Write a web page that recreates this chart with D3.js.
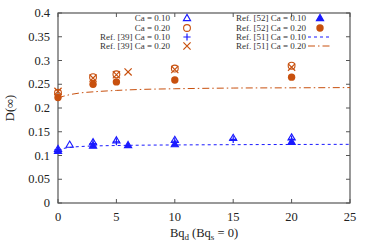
<!DOCTYPE html>
<html><head><meta charset="utf-8">
<script src="https://cdn.jsdelivr.net/npm/d3@7"></script>
<style>body{margin:0;background:#fff}svg{display:block}text{font-family:"Liberation Serif","Times New Roman",serif}</style>
</head><body><svg id="c" width="374" height="249"></svg>
<script>
const xTicks=[0,5,10,15,20,25];
const yTicks=[0,0.05,0.1,0.15,0.2,0.25,0.3,0.35,0.4];
// Ca = 0.10 (present, open triangle)
const ca10X=[0,1,3,5,10,15,20];
const ca10Y=[0.114,0.123,0.128,0.132,0.133,0.137,0.138];
// Ca = 0.20 (present, open circle)
const ca20X=[0,3,5,10,20];
const ca20Y=[0.232,0.265,0.271,0.283,0.289];
// Ref [39] Ca = 0.10 (+)
const r39aX=[0,3,5,10,15,20];
const r39aY=[0.112,0.125,0.129,0.13,0.134,0.134];
// Ref [39] Ca = 0.20 (x)
const r39bX=[0,3,5,6,10,20];
const r39bY=[0.235,0.263,0.27,0.276,0.281,0.286];
// Ref [52] Ca = 0.10 (filled triangle)
const r52aX=[0,3,6,10,20];
const r52aY=[0.11,0.121,0.122,0.124,0.129];
// Ref [52] Ca = 0.20 (filled circle)
const r52bX=[0,3,5,10,20];
const r52bY=[0.222,0.25,0.255,0.259,0.265];
// Ref [51] curves
const r51X=[0,0.5,1,2,3,5,7,10,15,20,25];
const r51aY=[0.112,0.115,0.117,0.119,0.12,0.121,0.1217,0.1222,0.1228,0.1232,0.1235];
const r51bY=[0.221,0.225,0.228,0.232,0.234,0.237,0.239,0.2405,0.242,0.2425,0.243];

const blue="#1a1aff", org="#c8500e";
const svg=d3.select("#c");
const L=58,R=350,T=13,B=203;
const x=d3.scaleLinear().domain([0,25]).range([L,R]);
const y=d3.scaleLinear().domain([0,0.4]).range([B,T]);

// axes
const ax=svg.append("g").attr("font-size",12.5).attr("fill","#222");
svg.append("rect").attr("x",L).attr("y",T).attr("width",R-L).attr("height",B-T).attr("fill","none").attr("stroke","#555").attr("stroke-width",1.2);
xTicks.forEach(t=>{
  svg.append("line").attr("x1",x(t)).attr("x2",x(t)).attr("y1",B).attr("y2",B-4).attr("stroke","#555");
  svg.append("line").attr("x1",x(t)).attr("x2",x(t)).attr("y1",T).attr("y2",T+4).attr("stroke","#555");
  ax.append("text").attr("x",x(t)).attr("y",B+18).attr("text-anchor","middle").text(t);
});
yTicks.forEach(t=>{
  svg.append("line").attr("x1",L).attr("x2",L+4).attr("y1",y(t)).attr("y2",y(t)).attr("stroke","#555");
  svg.append("line").attr("x1",R).attr("x2",R-4).attr("y1",y(t)).attr("y2",y(t)).attr("stroke","#555");
  ax.append("text").attr("x",L-8).attr("y",y(t)+4).attr("text-anchor","end").text(d3.format("")(t));
});
ax.append("text").attr("transform","translate(14,"+((T+B)/2)+") rotate(-90)").attr("text-anchor","middle").text("D(∞)");
const xl=ax.append("text").attr("x",(L+R)/2).attr("y",237).attr("text-anchor","middle");
xl.append("tspan").text("Bq");
xl.append("tspan").attr("font-size",9).attr("dy",3).text("d");
xl.append("tspan").attr("dy",-3).text(" (Bq");
xl.append("tspan").attr("font-size",9).attr("dy",3).text("s");
xl.append("tspan").attr("dy",-3).text(" = 0)");

// lines
const line=d3.line().x(d=>x(d[0])).y(d=>y(d[1])).curve(d3.curveMonotoneX);
svg.append("path").attr("d",line(r51X.map((v,i)=>[v,r51aY[i]]))).attr("fill","none").attr("stroke",blue).attr("stroke-width",1).attr("stroke-dasharray","3,3");
svg.append("path").attr("d",line(r51X.map((v,i)=>[v,r51bY[i]]))).attr("fill","none").attr("stroke",org).attr("stroke-width",1).attr("stroke-dasharray","7,3,1.5,3");

// markers
const g=svg.append("g");
function tri(cx,cy,fill,col){g.append("path").attr("d",`M${cx},${cy-3.6}L${cx+3.6},${cy+2.6}L${cx-3.6},${cy+2.6}Z`).attr("fill",fill?col:"none").attr("stroke",col).attr("stroke-width",1.1);}
function circ(cx,cy,fill,col){g.append("circle").attr("cx",cx).attr("cy",cy).attr("r",fill?3.7:3.4).attr("fill",fill?col:"none").attr("stroke",col).attr("stroke-width",fill?0:1.1);}
function plus(cx,cy,col){g.append("path").attr("d",`M${cx-3.6},${cy}H${cx+3.6}M${cx},${cy-3.6}V${cy+3.6}`).attr("stroke",col).attr("stroke-width",1.2);}
function cross(cx,cy,col){g.append("path").attr("d",`M${cx-3.6},${cy-3.6}L${cx+3.6},${cy+3.6}M${cx+3.6},${cy-3.6}L${cx-3.6},${cy+3.6}`).attr("stroke",col).attr("stroke-width",1.2);}
r52aX.forEach((v,i)=>tri(x(v),y(r52aY[i]),true,blue));
ca10X.forEach((v,i)=>tri(x(v),y(ca10Y[i]),false,blue));
r39aX.forEach((v,i)=>plus(x(v),y(r39aY[i]),blue));
r52bX.forEach((v,i)=>circ(x(v),y(r52bY[i]),true,org));
ca20X.forEach((v,i)=>circ(x(v),y(ca20Y[i]),false,org));
r39bX.forEach((v,i)=>cross(x(v),y(r39bY[i]),org));

// legend
const lg=svg.append("g").attr("font-size",9).attr("fill","#333");
const rows=[18,28,37,46];
const leftLab=["Ca = 0.10","Ca = 0.20","Ref. [39] Ca = 0.10","Ref. [39] Ca = 0.20"];
const rightLab=["Ref. [52] Ca = 0.10","Ref. [52] Ca = 0.20","Ref. [51] Ca = 0.10","Ref. [51] Ca = 0.20"];
leftLab.forEach((t,i)=>lg.append("text").attr("x",170).attr("y",rows[i]+3).attr("text-anchor","end").text(t));
rightLab.forEach((t,i)=>lg.append("text").attr("x",236).attr("y",rows[i]+3).attr("text-anchor","start").text(t));
tri(187,rows[0],false,blue); circ(187,rows[1],false,org); plus(187,rows[2],blue); cross(187,rows[3],org);
tri(320,rows[0],true,blue); circ(320,rows[1],true,org);
svg.append("line").attr("x1",308).attr("x2",332).attr("y1",rows[2]).attr("y2",rows[2]).attr("stroke",blue).attr("stroke-dasharray","3,3");
svg.append("line").attr("x1",308).attr("x2",332).attr("y1",rows[3]).attr("y2",rows[3]).attr("stroke",org).attr("stroke-dasharray","7,3,1.5,3");
</script></body></html>
